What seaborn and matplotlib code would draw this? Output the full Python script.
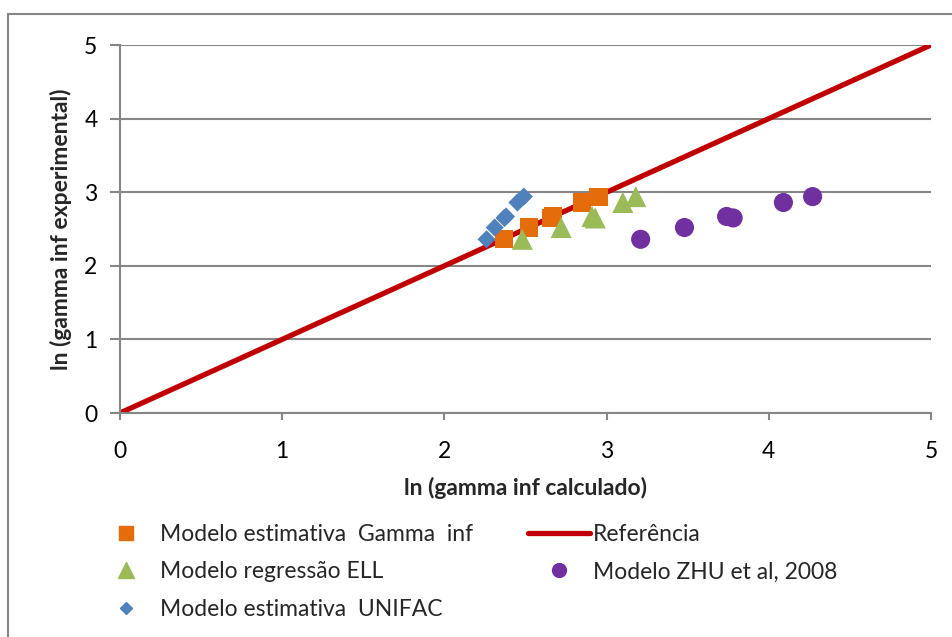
import numpy as np
import pandas as pd
import matplotlib
matplotlib.use("Agg")
import matplotlib.pyplot as plt
import seaborn as sns
from matplotlib.patches import Rectangle
from matplotlib.lines import Line2D

# ---- data ----
y_exp = [2.36, 2.52, 2.67, 2.65, 2.86, 2.94]
x_gamma = [2.37, 2.52, 2.67, 2.66, 2.85, 2.95]
x_ell = [2.48, 2.72, 2.91, 2.93, 3.10, 3.18]
x_unifac = [2.26, 2.31, 2.38, 2.37, 2.45, 2.49]
x_zhu = [3.21, 3.48, 3.74, 3.78, 4.09, 4.27]
ref_x = [0, 5]
ref_y = [0, 5]
ticks = [0, 1, 2, 3, 4, 5]

lab_gamma = "Modelo estimativa  Gamma  inf"
lab_ell = "Modelo regressão ELL"
lab_unifac = "Modelo estimativa  UNIFAC"
lab_ref = "Referência"
lab_zhu = "Modelo ZHU et al, 2008"

sns.set_theme(style="white")
plt.rcParams['font.family'] = ['Lato', 'DejaVu Sans']

W, H = 953, 637
fig = plt.figure(figsize=(W / 100, H / 100), dpi=100)
ax = fig.add_axes([120 / W, 1 - 413 / H, (931 - 120) / W, (413 - 45) / H])

grey = "#868686"
c_orange = "#E46C0A"
c_green = "#9BBB59"
c_blue = "#4F81BD"
c_purple = "#7030A0"
c_red = "#C00000"

FS = 16.5

ax.set_xlim(0, 5)
ax.set_ylim(0, 5)
ax.set_yticks(ticks)
ax.set_xticks(ticks)
ax.yaxis.grid(True, color=grey, lw=1.5)
ax.xaxis.grid(False)
ax.set_axisbelow(True)

sns.lineplot(x=ref_x, y=ref_y, ax=ax, color=c_red, lw=3.8, zorder=2)
sns.scatterplot(x=x_gamma, y=y_exp, ax=ax, marker="s", s=170, color=c_orange,
                edgecolor="none", zorder=3)
sns.scatterplot(x=x_ell, y=y_exp, ax=ax, marker="^", s=230, color=c_green,
                edgecolor="none", zorder=3)
sns.scatterplot(x=x_unifac, y=y_exp, ax=ax, marker="D", s=85, color=c_blue,
                edgecolor="none", zorder=3)
sns.scatterplot(x=x_zhu, y=y_exp, ax=ax, marker="o", s=190, color=c_purple,
                edgecolor="none", zorder=3)

for s in ["top", "right"]:
    ax.spines[s].set_visible(False)
for s in ["left", "bottom"]:
    ax.spines[s].set_color(grey)
    ax.spines[s].set_linewidth(1.5)
ax.tick_params(axis="both", colors=grey, width=1.5, labelcolor="black",
               labelsize=FS)
ax.tick_params(axis="y", length=7.2, pad=9, left=True)
ax.tick_params(axis="x", length=5, pad=15, bottom=True)

ax.set_xlabel("ln (gamma inf calculado)", fontsize=FS, fontweight="bold", labelpad=11)
ax.set_ylabel("ln (gamma inf experimental)", fontsize=FS, fontweight="bold", labelpad=8.5)

hs = [Line2D([], [], ls="none", marker="s", ms=9.5, color=c_orange),
      Line2D([], [], ls="none", marker="^", ms=11, color=c_green),
      Line2D([], [], ls="none", marker="D", ms=6.5, color=c_blue)]
h2 = [Line2D([], [], color=c_red, lw=3.8),
      Line2D([], [], ls="none", marker="o", ms=10, color=c_purple)]
kw = dict(frameon=False, fontsize=FS, handlelength=2.7, handletextpad=0.15,
          labelspacing=0.72, borderpad=0, borderaxespad=0)
leg1 = fig.legend(hs, [lab_gamma, lab_ell, lab_unifac], loc="upper left",
                  bbox_to_anchor=(95 / W, 1 - 524 / H), **kw)
leg2 = fig.legend(h2, [lab_ref, lab_zhu], loc="upper left",
                  bbox_to_anchor=(528 / W, 1 - 524 / H), **kw)

fig.patches.append(Rectangle((8 / W, -0.1), 1.1, 1 - 14 / H + 0.1,
                             transform=fig.transFigure, fill=False,
                             edgecolor=grey, lw=1.5))

fig.savefig("out.png", dpi=100)
